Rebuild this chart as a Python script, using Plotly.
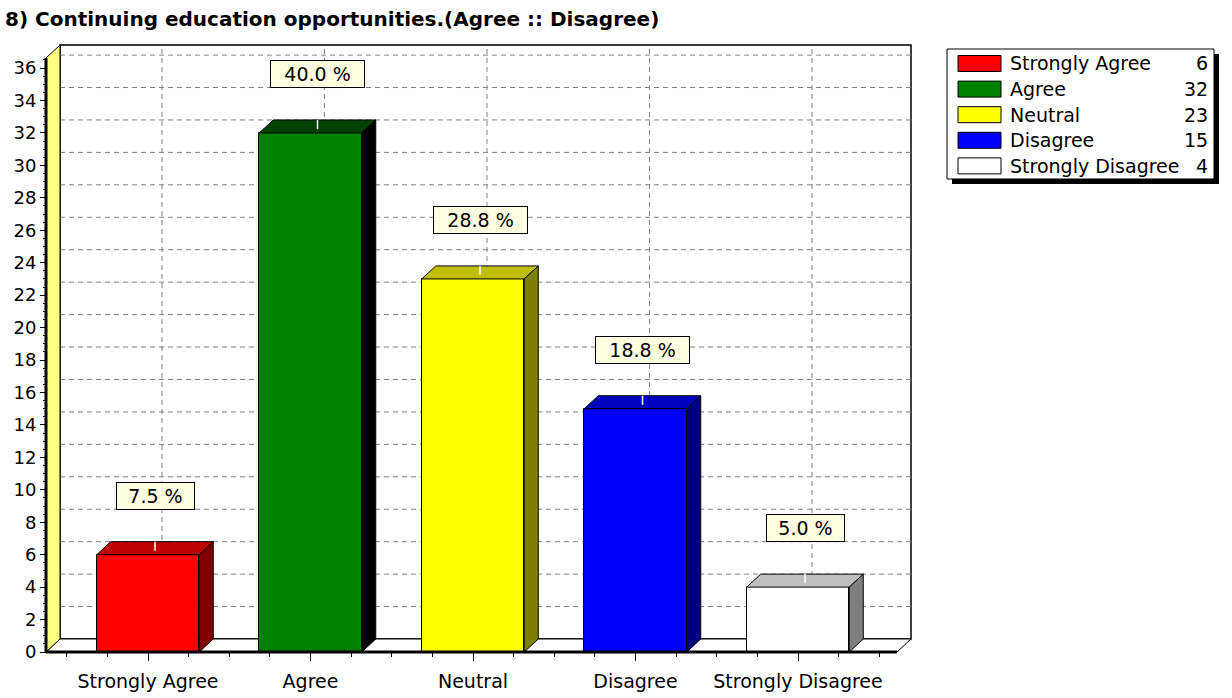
import plotly.graph_objects as go

# ---- data ----
categories = ["Strongly Agree", "Agree", "Neutral", "Disagree", "Strongly Disagree"]
counts = [6, 32, 23, 15, 4]
front_colors = ["#FF0000", "#008000", "#FFFF00", "#0000FF", "#FFFFFF"]
top_colors = ["#BF0000", "#004000", "#BFBF00", "#0000BF", "#BFBFBF"]
side_colors = ["#7F0000", "#000000", "#7F7F00", "#00007F", "#7F7F7F"]
y_tick_values = list(range(0, 37, 2))
title_text = "8) Continuing education opportunities.(Agree :: Disagree)"

total = sum(counts)
pct_labels = [f"{c * 100 / total:.1f} %" for c in counts]

# ---- page geometry (pixels) ----
W, H = 1232, 698
PLOT_L, PLOT_R, PLOT_T, PLOT_B = 40, 916, 40, 657
CAT_PX0, CAT_PX_STEP = 148, 162.5       # x pixel of first category, spacing
ZERO_PY, UNIT_PY = 652, 16.22           # y pixel of value 0, pixels per unit
DEPTH_PX_X, DEPTH_PX_Y = 14, 13         # 3D depth offset of the back plane

FONT = "DejaVu Sans"
TXT = "#000000"


def px_x(px):
    return (px - CAT_PX0) / CAT_PX_STEP


def py_y(py):
    return (ZERO_PY - py) / UNIT_PY


def paper_x(px):
    return (px - PLOT_L) / (PLOT_R - PLOT_L)


def paper_y(py):
    return (PLOT_B - py) / (PLOT_B - PLOT_T)


x_range = [px_x(PLOT_L), px_x(PLOT_R)]
y_range = [py_y(PLOT_B), py_y(PLOT_T)]
dx = DEPTH_PX_X / CAT_PX_STEP
dy = DEPTH_PX_Y / UNIT_PY
bar_w = 102.5 / CAT_PX_STEP

xl = px_x(46)            # front-left corner of the floor
xr = px_x(911)           # right edge of the back wall
ytop = py_y(45)          # top edge of the back wall
xpos = list(range(len(categories)))

# minor tick positions (quarter steps on x, half steps on y)
x_minor = [k / 4 - 0.5 for k in range(4 * len(categories) + 1) if k % 4 != 2]
y_minor = [k / 2 for k in range(0, 74) if k % 4 != 0]

fig = go.Figure()

# front faces of the bars
fig.add_trace(go.Bar(
    x=xpos, y=counts, width=bar_w,
    marker=dict(color=front_colors, line=dict(color="#000000", width=1)),
    showlegend=False, hoverinfo="skip",
))

# left wall and the vertical axis line on its front edge
fig.add_trace(go.Scatter(
    x=[xl, xl, xl + dx, xl + dx, xl], y=[0, ytop - dy, ytop, dy, 0],
    mode="lines", fill="toself", fillcolor="#FFFF80",
    line=dict(color="#000000", width=1), showlegend=False, hoverinfo="skip",
))
fig.add_trace(go.Scatter(
    x=[xl, xl], y=[0, ytop - dy], mode="lines",
    line=dict(color="#000000", width=3), showlegend=False, hoverinfo="skip",
))

# top and side faces
for i, v in enumerate(counts):
    x0, x1 = i - bar_w / 2, i + bar_w / 2
    fig.add_trace(go.Scatter(
        x=[x0, x1, x1 + dx, x0 + dx, x0], y=[v, v, v + dy, v + dy, v],
        mode="lines", fill="toself", fillcolor=top_colors[i],
        line=dict(color="#000000", width=1), showlegend=False, hoverinfo="skip",
    ))
    fig.add_trace(go.Scatter(
        x=[x1, x1 + dx, x1 + dx, x1, x1], y=[0, dy, v + dy, v, 0],
        mode="lines", fill="toself", fillcolor=side_colors[i],
        line=dict(color="#000000", width=1), showlegend=False, hoverinfo="skip",
    ))

shapes = []
# back wall
shapes.append(dict(type="rect", xref="x", yref="y", x0=xl + dx, y0=dy, x1=xr, y1=ytop,
                   fillcolor="#FFFFFF", line=dict(color="#000000", width=1.5), layer="below"))
# floor
shapes.append(dict(type="path", xref="x", yref="y",
                   path=f"M{xl},0 L{xr - dx},0 L{xr},{dy} L{xl + dx},{dy} Z",
                   fillcolor="#FFFFFF", line=dict(color="#000000", width=1), layer="below"))
# back-wall grid
for v in y_tick_values[1:]:
    shapes.append(dict(type="line", xref="x", yref="y", x0=xl + dx, x1=xr,
                       y0=v + dy, y1=v + dy,
                       line=dict(color="#808080", width=1, dash="5px,4px"), layer="below"))
for i in xpos:
    shapes.append(dict(type="line", xref="x", yref="y", x0=i + dx, x1=i + dx,
                       y0=dy, y1=ytop,
                       line=dict(color="#808080", width=1, dash="5px,4px"), layer="below"))
# floor front edge
shapes.append(dict(type="line", xref="x", yref="y", x0=xl, x1=xr - dx, y0=0, y1=0,
                   line=dict(color="#000000", width=3), layer="above"))
# mark connectors on the top faces
for i, v in enumerate(counts):
    shapes.append(dict(type="line", xref="x", yref="y", x0=i + dx / 2, x1=i + dx / 2,
                       y0=v + dy * 0.3, y1=v + dy,
                       line=dict(color="#FFFFFF", width=1.5), layer="above"))

annotations = []
# percentage labels
for i, (v, lab) in enumerate(zip(counts, pct_labels)):
    annotations.append(dict(
        x=i + dx / 2, y=v + dy, xref="x", yref="y", yanchor="bottom", yshift=32,
        text=lab, showarrow=False, font=dict(family=FONT, size=19, color=TXT),
        bgcolor="#FFFFE1", bordercolor="#000000", borderwidth=1, borderpad=2,
        width=16 * len(lab) - 7,
    ))

# legend panel
LEG_L, LEG_T, LEG_R, LEG_B, SHADOW = 947, 49, 1214, 179, 5
shapes.append(dict(type="rect", xref="paper", yref="paper",
                   x0=paper_x(LEG_L + SHADOW), x1=paper_x(LEG_R + SHADOW),
                   y0=paper_y(LEG_B + SHADOW), y1=paper_y(LEG_T + SHADOW),
                   fillcolor="#000000", line=dict(width=0), layer="above"))
shapes.append(dict(type="rect", xref="paper", yref="paper",
                   x0=paper_x(LEG_L), x1=paper_x(LEG_R),
                   y0=paper_y(LEG_B), y1=paper_y(LEG_T),
                   fillcolor="#FFFFFF", line=dict(color="#000000", width=1), layer="above"))
ROW0, ROW_STEP = 63.5, 25.6
for i, (name, cnt) in enumerate(zip(categories, counts)):
    cy = ROW0 + ROW_STEP * i
    shapes.append(dict(type="rect", xref="paper", yref="paper",
                       x0=paper_x(958), x1=paper_x(1001),
                       y0=paper_y(cy + 8), y1=paper_y(cy - 8),
                       fillcolor=front_colors[i], line=dict(color="#000000", width=1),
                       layer="above"))
    annotations.append(dict(x=paper_x(1008), y=paper_y(cy), xref="paper", yref="paper",
                            xanchor="left", yanchor="middle", text=name, showarrow=False,
                            font=dict(family=FONT, size=19, color=TXT)))
    annotations.append(dict(x=paper_x(1210), y=paper_y(cy), xref="paper", yref="paper",
                            xanchor="right", yanchor="middle", text=str(cnt), showarrow=False,
                            font=dict(family=FONT, size=19, color=TXT)))

fig.update_layout(
    width=W, height=H, autosize=False,
    margin=dict(l=PLOT_L, r=W - PLOT_R, t=PLOT_T, b=H - PLOT_B, pad=0, autoexpand=False),
    paper_bgcolor="#FFFFFF", plot_bgcolor="#FFFFFF",
    title=dict(text=f"<b>{title_text}</b>", x=5 / W, xref="container", xanchor="left",
               y=1 - 19 / H, yref="container", yanchor="middle", automargin=False,
               font=dict(family=FONT, size=20, color=TXT)),
    shapes=shapes, annotations=annotations,
    bargap=0, showlegend=False,
    xaxis=dict(
        range=x_range, anchor="free", position=paper_y(ZERO_PY), automargin=False,
        tickmode="array", tickvals=xpos, ticktext=categories,
        ticks="outside", ticklen=8, tickcolor="#000000", tickwidth=1,
        ticklabelstandoff=4,
        minor=dict(tickmode="array", tickvals=x_minor, ticks="outside", ticklen=4,
                   tickcolor="#000000", showgrid=False),
        showgrid=False, zeroline=False, showline=False,
        tickfont=dict(family=FONT, size=19, color=TXT), fixedrange=True,
    ),
    yaxis=dict(
        range=y_range, anchor="free", position=paper_x(46), automargin=False,
        tickmode="array", tickvals=y_tick_values,
        ticks="outside", ticklen=6, tickcolor="#000000", tickwidth=1,
        minor=dict(tickmode="array", tickvals=y_minor, ticks="outside", ticklen=3,
                   tickcolor="#000000", showgrid=False),
        showgrid=False, zeroline=False, showline=False,
        tickfont=dict(family=FONT, size=18, color=TXT), fixedrange=True,
    ),
)

fig.write_html("out.html")
